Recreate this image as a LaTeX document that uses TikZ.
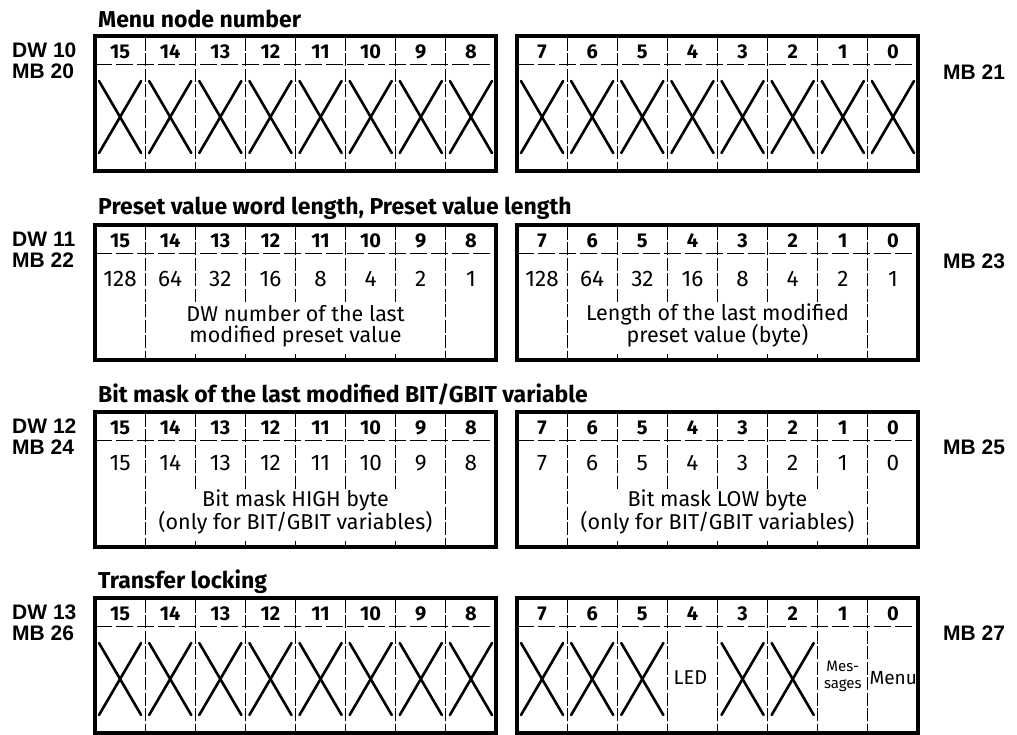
\documentclass[tikz,border=0pt]{standalone}
\usepackage{fontspec}
\setmainfont{Fira Sans}
\newfontfamily\lblfont{Liberation Sans}
\tikzset{
  frame/.style={line width=3.2pt},
  sepline/.style={line width=0.8pt, dash pattern=on 13pt off 2.5pt},
  hdrline/.style={line width=0.8pt, dash pattern=on 17pt off 4pt},
  crossline/.style={line width=2.6pt, line cap=round},
  titletext/.style={font=\bfseries\fontsize{23}{27}\selectfont, anchor=base west, inner sep=0pt},
  bitnum/.style={font=\bfseries\fontsize{20}{23}\selectfont, inner sep=0pt},
  valtext/.style={font=\fontsize{22.5}{26}\selectfont, inner sep=0pt},
  desctext/.style={font=\fontsize{21.5}{25}\selectfont, inner sep=0pt},
  smalltext/.style={font=\fontsize{15}{17}\selectfont, inner sep=0pt, align=center},
  celltext/.style={font=\fontsize{19}{22}\selectfont, inner sep=0pt},
  regtext/.style={font=\lblfont\bfseries\fontsize{21}{25}\selectfont, anchor=west, inner sep=0pt},
}
\def\cw{50.125}
% #1 name, #2 x, #3 top, #4 first bit number
\newcommand\regframe[4]{%
  \draw[frame] ({#2},{#3}) rectangle ++(401,135);
  \draw[hdrline] ({#2},{#3+28}) -- ++(401,0);
  \foreach \i [evaluate=\i as \b using int(#4-\i)] in {0,...,7}{
    \node[bitnum] (#1-b\i) at ({#2+(\i+0.5)*\cw},{#3+15.5}) {\b};
  }
}
\newcommand\fullseps[2]{%
  \foreach \i in {1,...,7}{
    \draw[sepline] ({#1+\i*\cw},{#2+1.5}) -- ({#1+\i*\cw},{#2+133.5});
  }
}
\newcommand\splitseps[2]{%
  \foreach \i in {1,7}{
    \draw[sepline] ({#1+\i*\cw},{#2+1.5}) -- ({#1+\i*\cw},{#2+133.5});
  }
  \foreach \i in {2,...,6}{
    \draw[sepline] ({#1+\i*\cw},{#2+1.5}) -- ({#1+\i*\cw},{#2+79});
    \draw[line width=0.8pt] ({#1+\i*\cw},{#2+129}) -- ({#1+\i*\cw},{#2+133.5});
  }
}
% #1 x, #2 top, #3 cell index
\newcommand\xcell[3]{%
  \draw[crossline] ({#1+#3*\cw+4},{#2+45}) -- ({#1+(#3+1)*\cw-4},{#2+117});
  \draw[crossline] ({#1+(#3+1)*\cw-4},{#2+45}) -- ({#1+#3*\cw+4},{#2+117});
}
\begin{document}
\begin{tikzpicture}[x=1pt,y=-1pt]
\useasboundingbox (0,0) rectangle (1017,734);
\def\xl{95}
\def\xr{517}

% ---------- Register 1 ----------
\node[titletext] (t1) at (98,27) {Menu node number};
\node[regtext] (dw10) at (12,50) {DW 10};
\node[regtext] (mb20) at (12,71) {MB 20};
\node[regtext] (mb21) at (943,72) {MB 21};
\regframe{ra}{\xl}{36}{15}
\regframe{rb}{\xr}{36}{7}
\fullseps{\xl}{36}
\fullseps{\xr}{36}
\foreach \c in {0,...,7}{\xcell{\xl}{36}{\c}\xcell{\xr}{36}{\c}}

% ---------- Register 2 ----------
\node[titletext] (t2) at (98,214) {Preset value word length, Preset value length};
\node[regtext] (dw11) at (12,239) {DW 11};
\node[regtext] (mb22) at (12,260) {MB 22};
\node[regtext] (mb23) at (943,261) {MB 23};
\regframe{rc}{\xl}{225}{15}
\regframe{rd}{\xr}{225}{7}
\splitseps{\xl}{225}
\splitseps{\xr}{225}
\foreach \v [count=\k from 0] in {128,64,32,16,8,4,2,1}{
  \node[valtext] (vc\k) at ({\xl+(\k+0.5)*\cw},279) {\v};
  \node[valtext] (vd\k) at ({\xr+(\k+0.5)*\cw},279) {\v};
}
\node[desctext] (dc1) at ({\xl+4*\cw},314) {DW number of the last};
\node[desctext] (dc2) at ({\xl+4*\cw},336) {modified preset value};
\node[desctext] (dd1) at ({\xr+4*\cw},314) {Length of the last modified};
\node[desctext] (dd2) at ({\xr+4*\cw},336) {preset value (byte)};

% ---------- Register 3 ----------
\node[titletext] (t3) at (98,402) {Bit mask of the last modified BIT/GBIT variable};
\node[regtext] (dw12) at (12,426) {DW 12};
\node[regtext] (mb24) at (12,447) {MB 24};
\node[regtext] (mb25) at (943,447) {MB 25};
\regframe{re}{\xl}{412}{15}
\regframe{rf}{\xr}{412}{7}
\splitseps{\xl}{412}
\splitseps{\xr}{412}
\foreach \k in {0,...,7}{
  \pgfmathtruncatemacro\hv{15-\k}
  \pgfmathtruncatemacro\lv{7-\k}
  \node[valtext] (ve\k) at ({\xl+(\k+0.5)*\cw},463) {\hv};
  \node[valtext] (vf\k) at ({\xr+(\k+0.5)*\cw},463) {\lv};
}
\node[desctext] (de1) at ({\xl+4*\cw},500) {Bit mask HIGH byte};
\node[desctext] (de2) at ({\xl+4*\cw},523) {(only for BIT/GBIT variables)};
\node[desctext] (df1) at ({\xr+4*\cw},500) {Bit mask LOW byte};
\node[desctext] (df2) at ({\xr+4*\cw},523) {(only for BIT/GBIT variables)};

% ---------- Register 4 ----------
\node[titletext] (t4) at (98,588) {Transfer locking};
\node[regtext] (dw13) at (12,612) {DW 13};
\node[regtext] (mb26) at (12,633) {MB 26};
\node[regtext] (mb27) at (943,633) {MB 27};
\regframe{rg}{\xl}{598}{15}
\regframe{rh}{\xr}{598}{7}
\fullseps{\xl}{598}
\fullseps{\xr}{598}
\foreach \c in {0,...,7}{\xcell{\xl}{598}{\c}}
\foreach \c in {0,1,2,4,5}{\xcell{\xr}{598}{\c}}
\node[celltext, font=\fontsize{20}{23}\selectfont] (led) at ({\xr+3.5*\cw-2},678) {LED};
\node[smalltext] (mes) at ({\xr+6.5*\cw},676) {Mes-\\sages};
\node[celltext, anchor=west] (menu) at ({\xr+7*\cw+1.5},678) {Menu};
\end{tikzpicture}
\end{document}
